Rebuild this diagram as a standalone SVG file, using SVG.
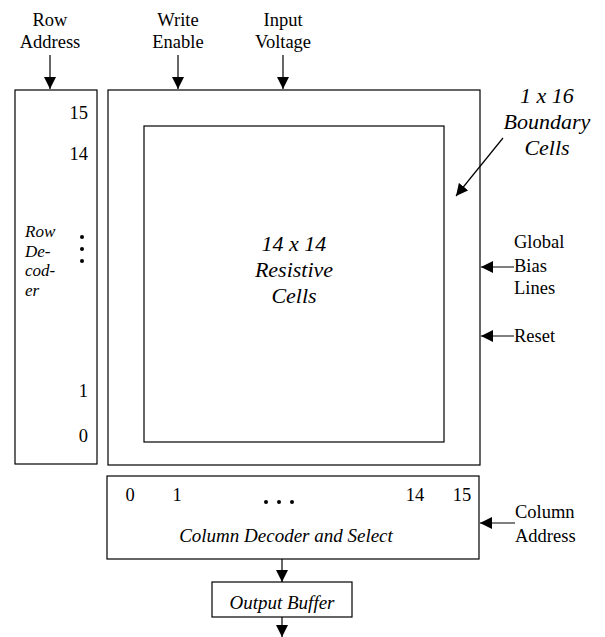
<svg xmlns="http://www.w3.org/2000/svg" width="605" height="637" viewBox="0 0 605 637">
<style>
.box{fill:#fff;stroke:#000;stroke-width:1.2}
text{font-family:'Liberation Serif','Times New Roman','DejaVu Serif',serif;fill:#000}
.t{font-size:18.5px}
.i{font-size:19px;font-style:italic}
.s{font-size:17px;font-style:italic}
.b{font-size:22px;font-style:italic}
.c{text-anchor:middle}
.r{text-anchor:end}
.ln{fill:none;stroke:#000;stroke-width:1.2}
</style>
<defs>
<marker id="ah" viewBox="0 0 12 12" refX="12" refY="6" markerWidth="12" markerHeight="12" markerUnits="userSpaceOnUse" orient="auto">
<path d="M0,0 L12,6 L0,12 z" fill="#000"/>
</marker>
</defs>
<rect width="605" height="637" fill="#fff"/>
<g id="labels">
<text class="t c" x="50" y="26">Row</text>
<text class="t c" x="50" y="48">Address</text>
<text class="t c" x="178" y="26">Write</text>
<text class="t c" x="178" y="48">Enable</text>
<text class="t c" x="283" y="26">Input</text>
<text class="t c" x="283" y="48">Voltage</text>
<text class="b c" x="547" y="103">1 x 16</text>
<text class="b c" x="547" y="129">Boundary</text>
<text class="b c" x="547" y="155">Cells</text>
<text class="t" x="514" y="248">Global</text>
<text class="t" x="514" y="272">Bias</text>
<text class="t" x="514" y="294">Lines</text>
<text class="t" x="514" y="342">Reset</text>
<text class="t" x="515" y="518">Column</text>
<text class="t" x="515" y="542">Address</text>
</g>
<g id="row-decoder">
<rect class="box" x="15" y="90" width="82" height="374"/>
<text class="t r" x="88" y="119">15</text>
<text class="t r" x="88" y="160">14</text>
<text class="t r" x="88" y="397">1</text>
<text class="t r" x="88" y="442">0</text>
<text class="s" x="25" y="237">Row</text>
<text class="s" x="25" y="256.5">De-</text>
<text class="s" x="25" y="276">cod-</text>
<text class="s" x="25" y="295.5">er</text>
<circle cx="82" cy="237" r="2"/>
<circle cx="82" cy="249" r="2"/>
<circle cx="82" cy="261" r="2"/>
</g>
<g id="array">
<rect class="box" x="108" y="90" width="372" height="375"/>
</g>
<g id="resistive-cells">
<rect class="box" x="144" y="126" width="300" height="316"/>
<text class="b c" x="294" y="251">14 x 14</text>
<text class="b c" x="294" y="277">Resistive</text>
<text class="b c" x="294" y="303">Cells</text>
</g>
<g id="column-decoder">
<rect class="box" x="107" y="476" width="372" height="83"/>
<text class="t c" x="130" y="501">0</text>
<text class="t c" x="177" y="501">1</text>
<circle cx="266" cy="502" r="2"/>
<circle cx="279" cy="502" r="2"/>
<circle cx="292" cy="502" r="2"/>
<text class="t c" x="415" y="501">14</text>
<text class="t c" x="462" y="501">15</text>
<text class="i c" x="286" y="542">Column Decoder and Select</text>
</g>
<g id="output-buffer">
<rect class="box" x="212" y="582" width="140" height="35"/>
<text class="i c" x="282" y="609">Output Buffer</text>
</g>
<g id="connectors">
<path class="ln" d="M50,55 V89" marker-end="url(#ah)"/>
<path class="ln" d="M178,55 V89" marker-end="url(#ah)"/>
<path class="ln" d="M283,55 V89" marker-end="url(#ah)"/>
<path class="ln" d="M503,138 L456,196" marker-end="url(#ah)"/>
<path class="ln" d="M514,267 H481" marker-end="url(#ah)"/>
<path class="ln" d="M514,336 H481" marker-end="url(#ah)"/>
<path class="ln" d="M515,523 H480" marker-end="url(#ah)"/>
<path class="ln" d="M282,559 V582" marker-end="url(#ah)"/>
<path class="ln" d="M282,617 V637" marker-end="url(#ah)"/>
</g>
</svg>
